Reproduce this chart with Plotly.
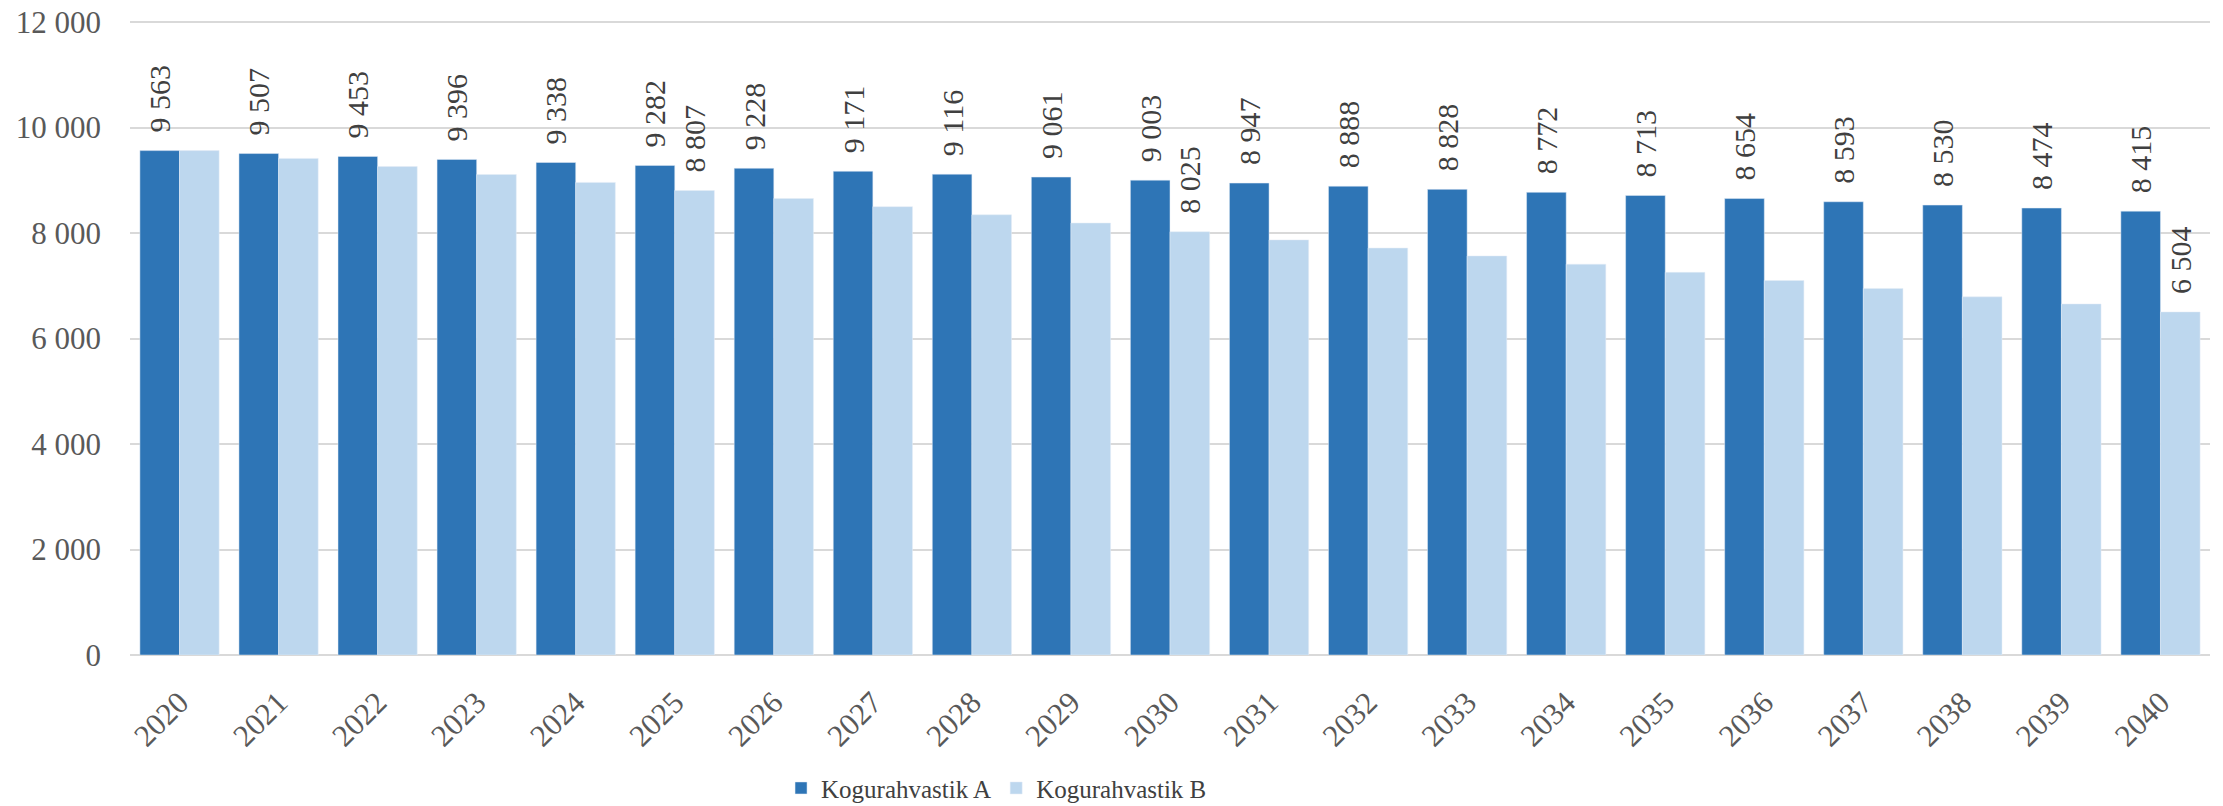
import plotly.graph_objects as go

years = [str(y) for y in range(2020, 2041)]
series_a = [9563, 9507, 9453, 9396, 9338, 9282, 9228, 9171, 9116, 9061, 9003,
            8947, 8888, 8828, 8772, 8713, 8654, 8593, 8530, 8474, 8415]
series_b = [9563, 9415, 9260, 9110, 8960, 8807, 8655, 8500, 8345, 8190, 8025,
            7870, 7715, 7565, 7410, 7255, 7100, 6950, 6790, 6655, 6504]
b_label_years = ["2025", "2030", "2040"]

name_a = "Kogurahvastik A"
name_b = "Kogurahvastik B"

PAD = "\u00a0\u00a0"


def fmt(v):
    return PAD + f"{v:,}".replace(",", "\u00a0")


text_a = [fmt(v) for v in series_a]
text_b = [fmt(v) if y in b_label_years else "" for y, v in zip(years, series_b)]

FONT = "Liberation Serif"
TXT = "#404040"

fig = go.Figure()
fig.add_trace(go.Bar(
    x=years, y=series_a, name=name_a, marker_color="#2E75B6",
    text=text_a, textposition="outside", textangle=-90,
    constraintext="none", cliponaxis=False,
    textfont=dict(family=FONT, size=30, color=TXT),
))
fig.add_trace(go.Bar(
    x=years, y=series_b, name=name_b, marker_color="#BDD7EE",
    text=text_b, textposition="outside", textangle=-90,
    constraintext="none", cliponaxis=False,
    textfont=dict(family=FONT, size=30, color=TXT),
))

fig.update_layout(
    width=2223, height=806,
    margin=dict(l=122, r=21, t=13, b=159, autoexpand=False),
    barmode="group", bargap=0.2, bargroupgap=0,
    plot_bgcolor="white", paper_bgcolor="white",
    separators=", ",
    font=dict(family=FONT, size=31, color="#595959"),
    legend=dict(orientation="h", x=0.313, xanchor="left",
                yref="container", y=0.032, yanchor="middle",
                font=dict(family=FONT, size=25, color="#404040"),
                itemwidth=30, traceorder="normal"),
    showlegend=True,
)
fig.update_xaxes(tickangle=-45, showgrid=False, showline=False,
                 ticklabelstandoff=22, automargin=False,
                 tickfont=dict(family=FONT, size=31, color="#595959"))
fig.update_yaxes(range=[0, 12020], tick0=0, dtick=2000, tickformat=",d",
                 showgrid=True, gridcolor="#D9D9D9", gridwidth=2,
                 zeroline=True, zerolinecolor="#D9D9D9", zerolinewidth=2,
                 ticklabelstandoff=28, automargin=False,
                 ticklabeloverflow="allow",
                 tickfont=dict(family=FONT, size=31, color="#595959"))

fig.write_html("out.html")
